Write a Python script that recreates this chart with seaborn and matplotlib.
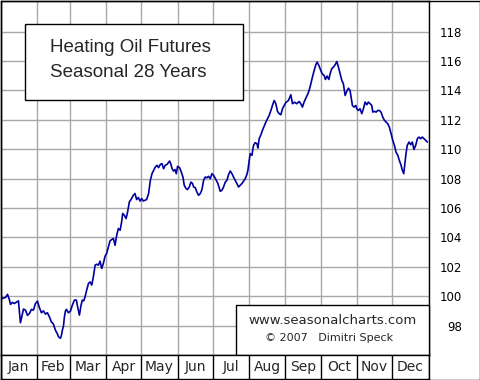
import matplotlib
matplotlib.use("Agg")
import matplotlib.pyplot as plt
from matplotlib.patches import Rectangle
import pandas as pd
import seaborn as sns

# ---- data (day of year, seasonal index) ----
days = [0, 1.7, 4.3, 6.0, 7.7, 8.5, 10.2, 11.9, 13.6, 15.3, 17.0, 17.9, 19.6, 21.3, 23.0, 24.7,
        26.4, 28.1, 29.8, 31.5, 33.2, 34.9, 36.6, 38.3, 40.0, 41.7, 43.4, 45.1, 46.8, 48.6, 49.4,
        51.1, 52.0, 52.8, 53.7, 54.5, 55.4, 56.2, 57.9, 59.6, 61.3, 63.0, 64.7, 66.0, 67.3, 68.7,
        69.8, 71.0, 72.1, 73.5, 75.0, 76.4, 77.8, 79.2, 80.7, 82.0, 83.5, 84.9, 86.3, 87.7, 89.2,
        90.5, 92.0, 93.4, 94.8, 96.3, 97.7, 99.1, 100.5, 102.0, 103.3, 104.2, 105.6, 107.1, 108.4,
        109.9, 111.3, 113.3, 114.7, 116.1, 117.5, 119.0, 120.4, 121.8, 123.3, 124.6, 126.3, 127.8,
        129.2, 130.6, 132.0, 133.5, 134.8, 136.3, 137.7, 139.1, 140.5, 142.0, 144.2, 145.4, 146.3,
        147.6, 148.8, 149.9, 151.0, 152.7, 154.2, 155.6, 156.7, 158.2, 159.5, 161.0, 162.4, 163.8,
        164.7, 166.1, 167.5, 168.9, 170.4, 171.8, 173.2, 174.6, 176.1, 177.4, 178.9, 180.3, 181.7,
        183.1, 185.4, 187.4, 188.8, 190.2, 191.7, 193.1, 194.5, 195.9, 197.4, 198.7, 200.2, 201.6,
        203.0, 204.4, 205.9, 207.2, 208.7, 210.1, 211.0, 212.1, 213.0, 214.4, 215.8, 217.2, 218.7,
        219.5, 220.6, 222.1, 223.4, 224.9, 226.3, 227.7, 229.1, 230.6, 231.9, 233.4, 234.8, 236.2,
        237.7, 239.1, 240.5, 241.9, 243.4, 245.6, 247.6, 249.0, 250.7, 252.7, 254.7, 256.1, 257.5,
        258.9, 260.4, 261.8, 263.2, 264.7, 266.0, 267.5, 268.9, 270.0, 271.5, 272.8, 274.3, 276.0,
        277.1, 278.5, 280.0, 281.1, 282.5, 283.9, 285.4, 286.8, 288.2, 289.6, 291.1, 292.4, 293.9,
        295.3, 296.7, 298.1, 299.0, 300.1, 301.5, 303.0, 303.8, 305.2, 306.6, 308.1, 309.5, 310.9,
        312.4, 313.7, 315.2, 316.6, 317.5, 318.8, 320.3, 321.7, 323.1, 324.5, 326.0, 327.4, 328.8,
        330.2, 331.6, 333.1, 334.5, 335.9, 337.3, 338.8, 340.1, 341.6, 342.7, 343.9, 345.0, 345.8,
        346.9, 348.4, 349.8, 351.2, 352.6, 354.1, 355.5, 356.9, 358.3, 359.7, 361.2, 362.6, 364.0]
values = [100.00, 99.84, 99.91, 100.12, 99.73, 99.44, 99.57, 99.50, 99.59, 99.68, 98.19, 98.51,
          99.12, 99.05, 98.69, 98.82, 99.10, 99.05, 99.50, 99.66, 99.21, 98.87, 99.00, 98.78,
          98.87, 98.59, 98.25, 98.10, 97.69, 97.42, 97.24, 97.13, 97.35, 97.69, 97.96, 98.59,
          99.00, 99.10, 98.87, 98.98, 99.39, 99.73, 99.73, 99.18, 98.71, 99.39, 99.73, 99.68,
          99.95, 100.41, 100.86, 100.97, 100.75, 101.31, 102.11, 102.17, 102.11, 102.38, 101.88,
          102.22, 102.72, 102.90, 103.35, 103.76, 103.85, 103.92, 103.46, 104.14, 104.60, 104.48,
          105.05, 105.62, 105.50, 105.28, 105.73, 106.41, 106.57, 106.86, 106.98, 106.57, 106.71,
          106.47, 106.64, 106.47, 106.52, 106.57, 106.98, 107.88, 108.33, 108.56, 108.78, 108.90,
          108.74, 108.96, 109.01, 108.67, 108.90, 108.96, 109.19, 108.96, 108.67, 108.51, 108.61,
          108.33, 108.83, 108.74, 108.44, 108.10, 107.54, 107.32, 107.25, 107.42, 107.76, 107.66,
          107.42, 107.38, 107.08, 106.86, 106.98, 107.25, 107.88, 108.10, 108.06, 108.15, 107.99,
          108.33, 108.22, 108.02, 107.66, 107.13, 107.20, 107.42, 107.76, 107.88, 108.27, 108.51,
          108.33, 108.10, 107.88, 107.66, 107.42, 107.54, 107.66, 107.81, 107.99, 108.27, 108.56,
          109.24, 109.69, 109.58, 110.26, 110.44, 110.37, 110.07, 110.71, 110.98, 111.28, 111.57,
          111.84, 112.07, 112.29, 112.63, 112.97, 113.31, 113.09, 112.57, 112.41, 112.34, 112.75,
          112.97, 113.18, 113.31, 113.70, 113.09, 113.19, 113.09, 113.24, 113.09, 112.86, 113.20,
          113.47, 113.70, 113.99, 114.45, 114.90, 115.35, 115.74, 115.92, 115.69, 115.42, 115.13,
          115.01, 114.74, 114.97, 114.74, 115.13, 115.47, 115.58, 115.74, 115.96, 115.58, 115.13,
          114.67, 114.45, 113.65, 113.93, 114.15, 113.99, 113.54, 112.97, 112.86, 112.97, 112.75,
          112.63, 112.75, 112.41, 112.75, 113.20, 113.02, 113.20, 113.09, 112.97, 112.52, 112.57,
          112.52, 112.63, 112.63, 112.52, 112.18, 111.96, 111.84, 111.73, 111.50, 111.05, 110.60,
          110.26, 109.80, 109.58, 109.24, 108.90, 108.56, 108.33, 109.12, 109.69, 110.26, 110.48,
          110.30, 110.48, 109.98, 110.26, 110.71, 110.82, 110.71, 110.82, 110.71, 110.60, 110.48]

months = ["Jan", "Feb", "Mar", "Apr", "May", "Jun", "Jul", "Aug", "Sep", "Oct", "Nov", "Dec"]
month_starts = [0, 31, 59, 90, 120, 151, 181, 212, 243, 273, 304, 334, 365]
y_ticks = [98, 100, 102, 104, 106, 108, 110, 112, 114, 116, 118]
title_lines = ["Heating Oil Futures", "Seasonal 28 Years"]
credit_lines = ["www.seasonalcharts.com", "\u00a9 2007   Dimitri Speck"]

df = pd.DataFrame({"day": days, "value": values})

sns.set_style("white")
plt.rcParams["font.family"] = ["DejaVu Sans"]

W, H = 480.0, 380.0
fig = plt.figure(figsize=(4.8, 3.8), dpi=100)
fig.patch.set_facecolor("white")

ax = fig.add_axes([0.5 / W, 25.5 / H, 428.0 / W, 354.0 / H])
strip = fig.add_axes([0.5 / W, 1.5 / H, 428.0 / W, 24.0 / H])

sns.lineplot(data=df, x="day", y="value", ax=ax, color="#0000a0", linewidth=1.2, zorder=3)
ax.set_xlim(0, 365)
ax.set_ylim(96.03, 120.11)
ax.set_xlabel("")
ax.set_ylabel("")
ax.set_xticks(month_starts)
ax.set_xticklabels([])
ax.set_yticks(y_ticks)
ax.yaxis.tick_right()
ax.tick_params(axis="x", length=0)
ax.tick_params(axis="y", length=0, pad=24, labelsize=8.5, labelcolor="black")
for lbl in ax.get_yticklabels():
    lbl.set_horizontalalignment("right")
ax.grid(True, color="#a8a8a8", linewidth=1)
ax.set_axisbelow(True)
for s in ax.spines.values():
    s.set_visible(True)
    s.set_color("black")
    s.set_linewidth(1)

# Title box
ax.add_patch(Rectangle((25 / 428.5, 1 - 100 / 354.5), 218 / 428.5, 76 / 354.5,
                       transform=ax.transAxes, facecolor="white", edgecolor="black",
                       linewidth=1, zorder=5))
ax.text(130 / 428.5, 1 - 47 / 354.5, title_lines[0], transform=ax.transAxes,
        ha="center", va="center", fontsize=13.5, family=["Liberation Sans", "DejaVu Sans"],
        zorder=6)
ax.text(128 / 428.5, 1 - 72 / 354.5, title_lines[1], transform=ax.transAxes,
        ha="center", va="center", fontsize=13.5, family=["Liberation Sans", "DejaVu Sans"],
        zorder=6)

# Credit box
ax.add_patch(Rectangle((236 / 428.5, 0), 1 - 236 / 428.5, 50 / 354.5,
                       transform=ax.transAxes, facecolor="white", edgecolor="black",
                       linewidth=1, zorder=5, clip_on=False))
ax.text(332.5 / 428.5, 1 - 320 / 354.5, credit_lines[0], transform=ax.transAxes,
        ha="center", va="center", fontsize=9.5, zorder=6)
ax.text(328.7 / 428.5, 1 - 338 / 354.5, credit_lines[1], transform=ax.transAxes,
        ha="center", va="center", fontsize=8, zorder=6)

# Month strip
centers = [(month_starts[i] + month_starts[i + 1]) / 2 for i in range(12)]
strip.set_xlim(0, 365)
strip.set_ylim(0, 1)
strip.set_yticks([])
strip.set_xticks(month_starts)
strip.set_xticklabels([])
strip.set_xticks(centers, minor=True)
strip.set_xticklabels(months, minor=True)
strip.tick_params(axis="x", which="both", length=0)
strip.tick_params(axis="x", which="minor", pad=-8.6, labelsize=10)
for lbl in strip.get_xticklabels(minor=True):
    lbl.set_verticalalignment("center")
strip.grid(True, which="major", axis="x", color="black", linewidth=1)
for s in strip.spines.values():
    s.set_visible(True)
    s.set_color("black")
    s.set_linewidth(1)

# Outer frame
fig.add_artist(Rectangle((0.5 / W, 0.5 / H), 479 / W, 379 / H, transform=fig.transFigure,
                         fill=False, edgecolor="black", linewidth=1))

fig.savefig("out.png", dpi=100)
